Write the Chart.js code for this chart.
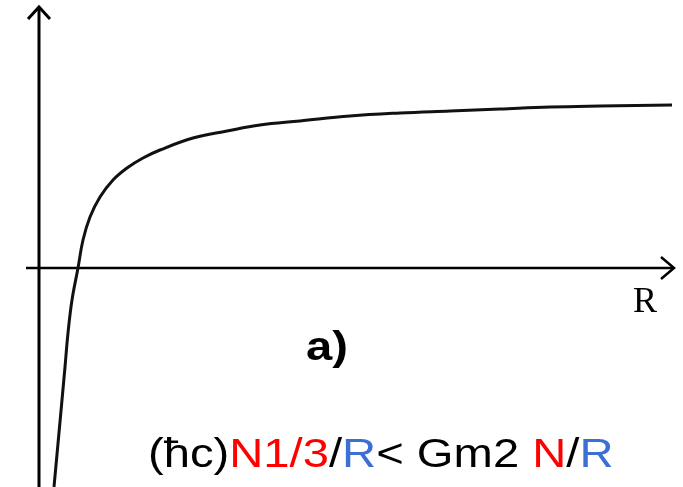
<!DOCTYPE html>
<html>
<head>
<meta charset="utf-8">
<title>E(R)</title>
<script src="https://cdn.jsdelivr.net/npm/chart.js@4"></script>
<style>
  html, body { margin: 0; padding: 0; background: #fff; }
  #wrap { width: 683px; height: 487px; position: relative; }
</style>
</head>
<body>
<div id="wrap"><canvas id="energyChart"></canvas></div>
<script>
// curve E(R), arbitrary units
const radius = [1.5, 2.3, 2.6, 2.9, 3.3, 3.9, 4.4, 5.1, 6.1, 7.4, 8.8, 10.4, 12.1,
  15.4, 18.8, 22.1, 26.1, 31.1, 36.1, 41.1, 46.1, 51.1, 56.1, 63.3];
const energy = [-21.9, -13.2, -9.9, -6.5, -3.2, 0, 2.8, 5.1, 7.1, 8.8, 10.0, 11.0, 11.8,
  13.0, 13.7, 14.3, 14.7, 15.2, 15.5, 15.7, 15.9, 16.1, 16.2, 16.3];

// axis extents in the same units
const xAxisRange = [-1.3, 63.5];
const yAxisRange = [-21.9, 26.1];

const formula = [
  ["(ħc)", "#000000"],
  ["N1/3", "#ff0000"],
  ["/", "#000000"],
  ["R", "#3b6fd4"],
  ["< Gm2 ", "#000000"],
  ["N", "#ff0000"],
  ["/", "#000000"],
  ["R", "#3b6fd4"],
];

// text drawn slightly wide, like the original slide
function wideText(ctx, txt, x, y, sx) {
  ctx.save();
  ctx.translate(x, y);
  ctx.scale(sx, 1);
  ctx.fillText(txt, 0, 0);
  ctx.restore();
}

const arrowAxes = {
  id: "arrowAxes",
  beforeDatasetsDraw(chart) {
    const { ctx, scales } = chart;
    const x0 = scales.x.getPixelForValue(0);
    const y0 = scales.y.getPixelForValue(0);
    const xl = scales.x.getPixelForValue(xAxisRange[0]);
    const xr = scales.x.getPixelForValue(xAxisRange[1]);
    const yb = scales.y.getPixelForValue(yAxisRange[0]);
    const yt = scales.y.getPixelForValue(yAxisRange[1]);
    ctx.save();
    ctx.strokeStyle = "#000";
    ctx.lineCap = "butt";
    ctx.lineJoin = "miter";

    // vertical axis
    ctx.lineWidth = 3;
    ctx.beginPath();
    ctx.moveTo(x0, yb);
    ctx.lineTo(x0, yt + 1);
    ctx.stroke();
    ctx.beginPath();
    ctx.moveTo(x0 - 11, yt + 12);
    ctx.lineTo(x0, yt);
    ctx.lineTo(x0 + 11, yt + 12);
    ctx.stroke();

    // horizontal axis
    ctx.lineWidth = 2.5;
    ctx.beginPath();
    ctx.moveTo(xl, y0);
    ctx.lineTo(xr - 1, y0);
    ctx.stroke();
    ctx.beginPath();
    ctx.moveTo(xr - 13, y0 - 11);
    ctx.lineTo(xr, y0);
    ctx.lineTo(xr - 13, y0 + 11);
    ctx.stroke();
    ctx.restore();
  },
  afterDraw(chart) {
    const { ctx } = chart;
    ctx.save();
    ctx.fillStyle = "#000";
    ctx.textBaseline = "alphabetic";

    ctx.font = "36px 'Liberation Serif', 'Times New Roman', serif";
    ctx.textAlign = "center";
    ctx.fillText("R", 645, 312);

    ctx.font = "bold 40px 'Liberation Sans', Arial, sans-serif";
    ctx.textAlign = "left";
    const sx = 1.18;
    wideText(ctx, "a)", 327 - ctx.measureText("a)").width * sx / 2, 360, sx);

    ctx.font = "40px 'Liberation Sans', Arial, sans-serif";
    let x = 148;
    formula.forEach(([txt, col]) => {
      ctx.fillStyle = col;
      wideText(ctx, txt, x, 467, sx);
      x += ctx.measureText(txt).width * sx;
    });
    ctx.restore();
  },
};

new Chart(document.getElementById("energyChart"), {
  type: "line",
  data: {
    datasets: [
      {
        data: radius.map((r, i) => ({ x: r, y: energy[i] })),
        borderColor: "#111",
        borderWidth: 3,
        pointRadius: 0,
        tension: 0.4,
        fill: false,
      },
    ],
  },
  options: {
    responsive: true,
    maintainAspectRatio: false,
    animation: false,
    layout: { padding: 0 },
    plugins: { legend: { display: false }, tooltip: { enabled: false } },
    scales: {
      x: { type: "linear", display: false, min: -3.9, max: 64.4 },
      y: { type: "linear", display: false, min: -21.9, max: 26.8 },
    },
  },
  plugins: [arrowAxes],
});
</script>
</body>
</html>
